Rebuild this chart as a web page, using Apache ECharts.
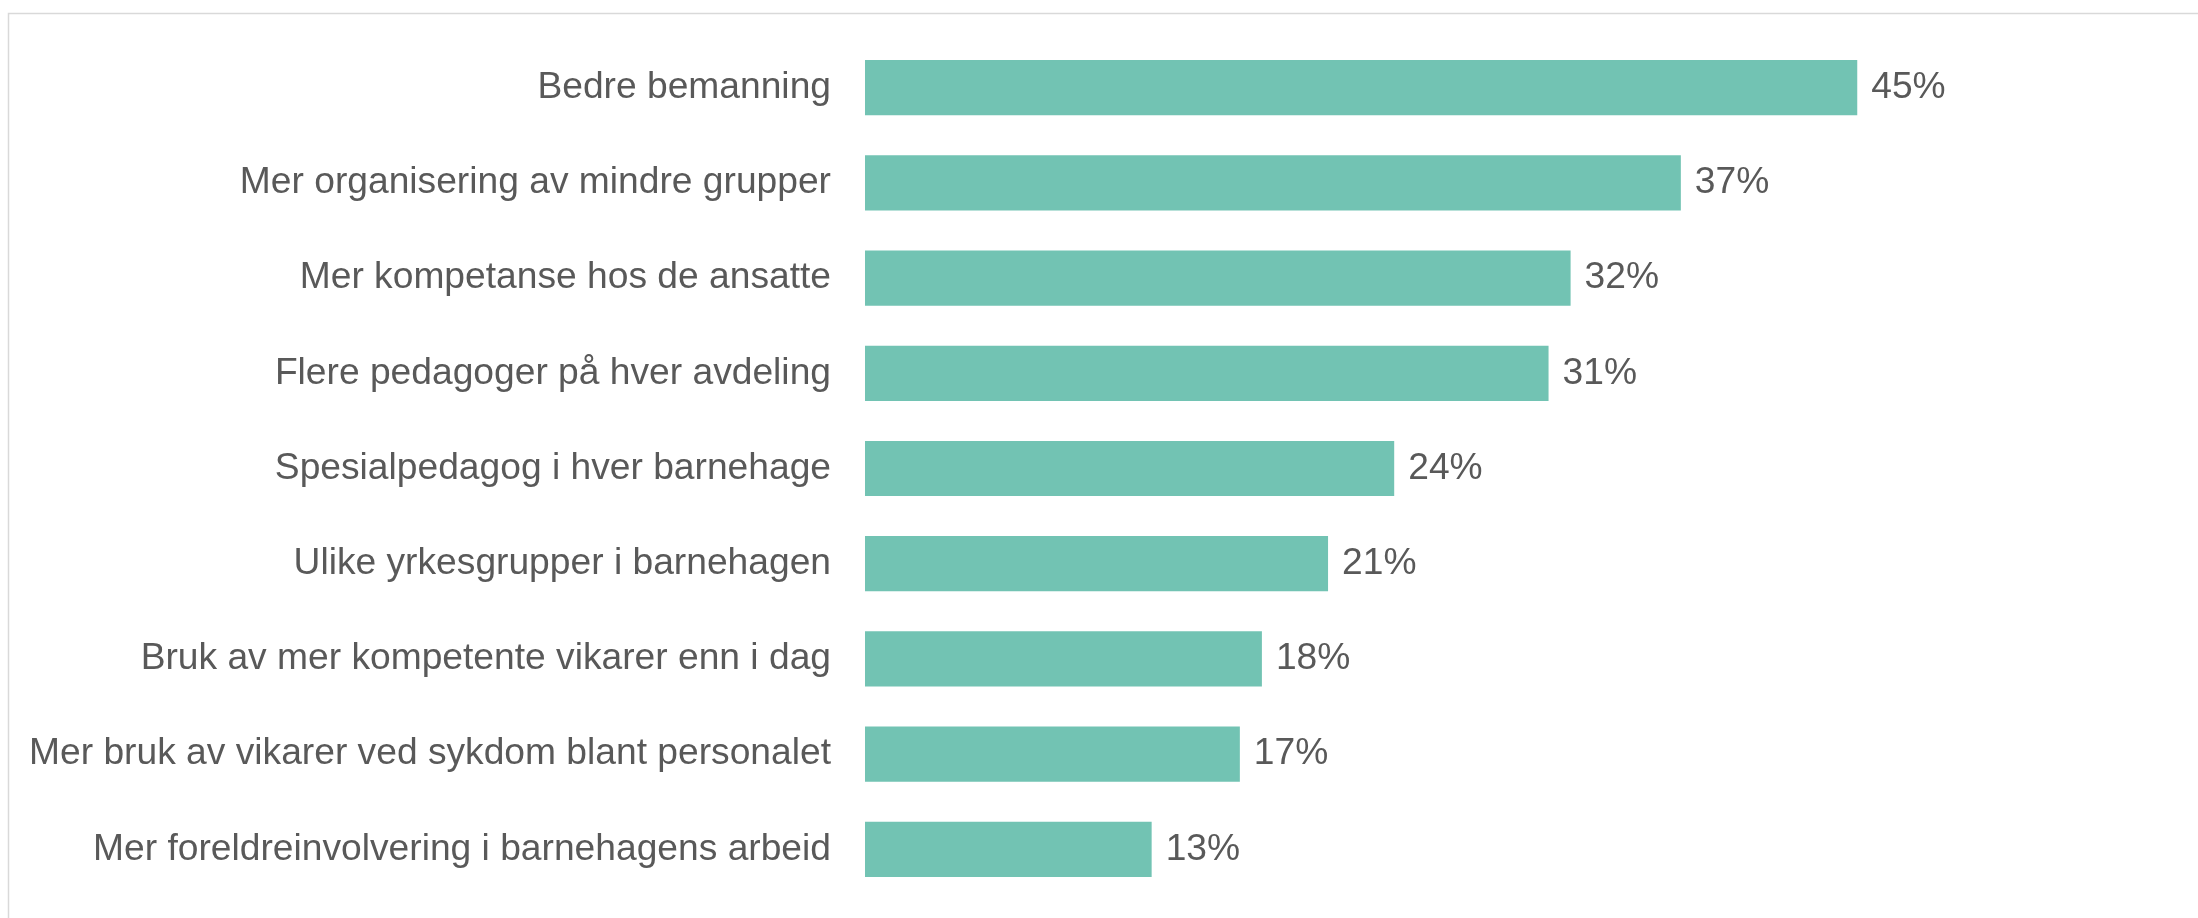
<!DOCTYPE html>
<html>
<head>
<meta charset="utf-8">
<style>
  html, body { margin: 0; padding: 0; background: #fff; }
  #chart { width: 2198px; height: 918px; }
</style>
<script src="https://cdn.jsdelivr.net/npm/echarts@6/dist/echarts.min.js"></script>
</head>
<body>
<div id="chart"></div>
<script>
// categories top to bottom
const categories = [
  'Bedre bemanning',
  'Mer organisering av mindre grupper',
  'Mer kompetanse hos de ansatte',
  'Flere pedagoger på hver avdeling',
  'Spesialpedagog i hver barnehage',
  'Ulike yrkesgrupper i barnehagen',
  'Bruk av mer kompetente vikarer enn i dag',
  'Mer bruk av vikarer ved sykdom blant personalet',
  'Mer foreldreinvolvering i barnehagens arbeid'
]
const values = [45, 37, 32, 31, 24, 21, 18, 17, 13]

const chart = echarts.init(document.getElementById('chart'))
const option = {
  animation: false,
  graphic: [
    {
      type: 'rect',
      left: 6,
      top: 11,
      shape: { width: 2300, height: 1000 },
      style: { fill: 'none', stroke: '#d9d9d9', lineWidth: 1.5 },
      silent: true
    }
  ],
  grid: {
    left: 865,
    right: 10,
    top: 40,
    bottom: 21,
    containLabel: false
  },
  xAxis: {
    type: 'value',
    min: 0,
    max: 60,
    show: false
  },
  yAxis: {
    type: 'category',
    inverse: true,
    data: categories,
    axisLine: { show: false },
    axisTick: { show: false },
    axisLabel: {
      margin: 34,
      color: '#595959',
      fontSize: 37.2,
      padding: [7, 0, 0, 0],
      fontFamily: 'Liberation Sans, Arial, sans-serif'
    }
  },
  series: [
    {
      type: 'bar',
      data: values,
      barCategoryGap: '42%',
      itemStyle: { color: '#72c3b3' },
      label: {
        show: true,
        position: 'right',
        distance: 14,
        formatter: '{c}%',
        color: '#595959',
        fontSize: 37.2,
        padding: [7, 0, 0, 0],
        fontFamily: 'Liberation Sans, Arial, sans-serif'
      }
    }
  ]
}
chart.setOption(option)
</script>
</body>
</html>
